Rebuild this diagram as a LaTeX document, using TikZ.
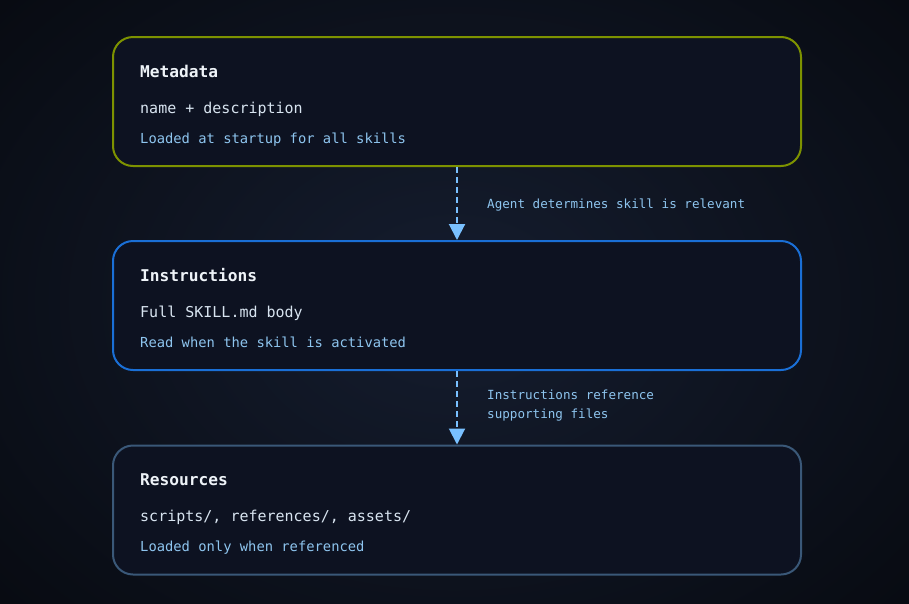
\documentclass[tikz,border=0pt]{standalone}
\usepackage{fontspec}
\setmainfont{DejaVu Sans Mono}
\usetikzlibrary{arrows.meta}
\definecolor{bgin}{HTML}{151D2F}
\definecolor{bgout}{HTML}{080B12}
\definecolor{boxfill}{HTML}{0D1221}
\definecolor{olive}{HTML}{7D9200}
\definecolor{bblue}{HTML}{1A6FD6}
\definecolor{slate}{HTML}{3A5878}
\definecolor{titlec}{HTML}{EEF3F8}
\definecolor{mainc}{HTML}{D8E4F0}
\definecolor{subc}{HTML}{8EC5EF}
\definecolor{arrowc}{HTML}{79C0FF}
\tikzset{
  card/.style={draw, line width=2pt, rounded corners=20pt, fill=boxfill,
    minimum width=688pt, minimum height=129pt, inner sep=0pt},
  ttl/.style={anchor=base west, inner sep=0pt, text=titlec,
    font=\bfseries\fontsize{16.2}{19}\selectfont},
  maintxt/.style={anchor=base west, inner sep=0pt, text=mainc,
    font=\fontsize{15}{18}\selectfont},
  subtxt/.style={anchor=base west, inner sep=0pt, text=subc,
    font=\fontsize{13.8}{16}\selectfont},
  lbl/.style={anchor=base west, inner sep=0pt, text=subc,
    font=\fontsize{12.6}{15}\selectfont},
  flow/.style={draw=arrowc, line width=2pt, dash pattern=on 6pt off 4pt,
    -{Triangle[length=16pt,width=16pt]}}
}
\begin{document}
\begin{tikzpicture}[x=1pt,y=-1pt]
\useasboundingbox (0,0) rectangle (909,603);
\shade[inner color=bgin, outer color=bgout] (-150,-150) rectangle (1059,753);
% boxes
\node[card, draw=olive] (b1) at (457,101.5) {};
\node[card, draw=bblue] (b2) at (457,305.5) {};
\node[card, draw=slate] (b3) at (457,510) {};
% box 1 texts
\node[ttl] (t1) at (140,77) {Metadata};
\node[maintxt] (m1) at (140,113) {name + description};
\node[subtxt] (s1) at (140,143) {Loaded at startup for all skills};
% box 2 texts
\node[ttl] (t2) at (140,281) {Instructions};
\node[maintxt] (m2) at (140,317) {Full SKILL.md body};
\node[subtxt] (s2) at (140,347) {Read when the skill is activated};
% box 3 texts
\node[ttl] (t3) at (140,485) {Resources};
\node[maintxt] (m3) at (140,521) {scripts/, references/, assets/};
\node[subtxt] (s3) at (140,551) {Loaded only when referenced};
% arrows
\draw[flow] (b1.south) -- (b2.north);
\draw[flow] (b2.south) -- (b3.north);
% labels
\node[lbl] (l1) at (487,208) {Agent determines skill is relevant};
\node[lbl] (l2a) at (487,399) {Instructions reference};
\node[lbl] (l2b) at (487,418) {supporting files};
\end{tikzpicture}
\end{document}
